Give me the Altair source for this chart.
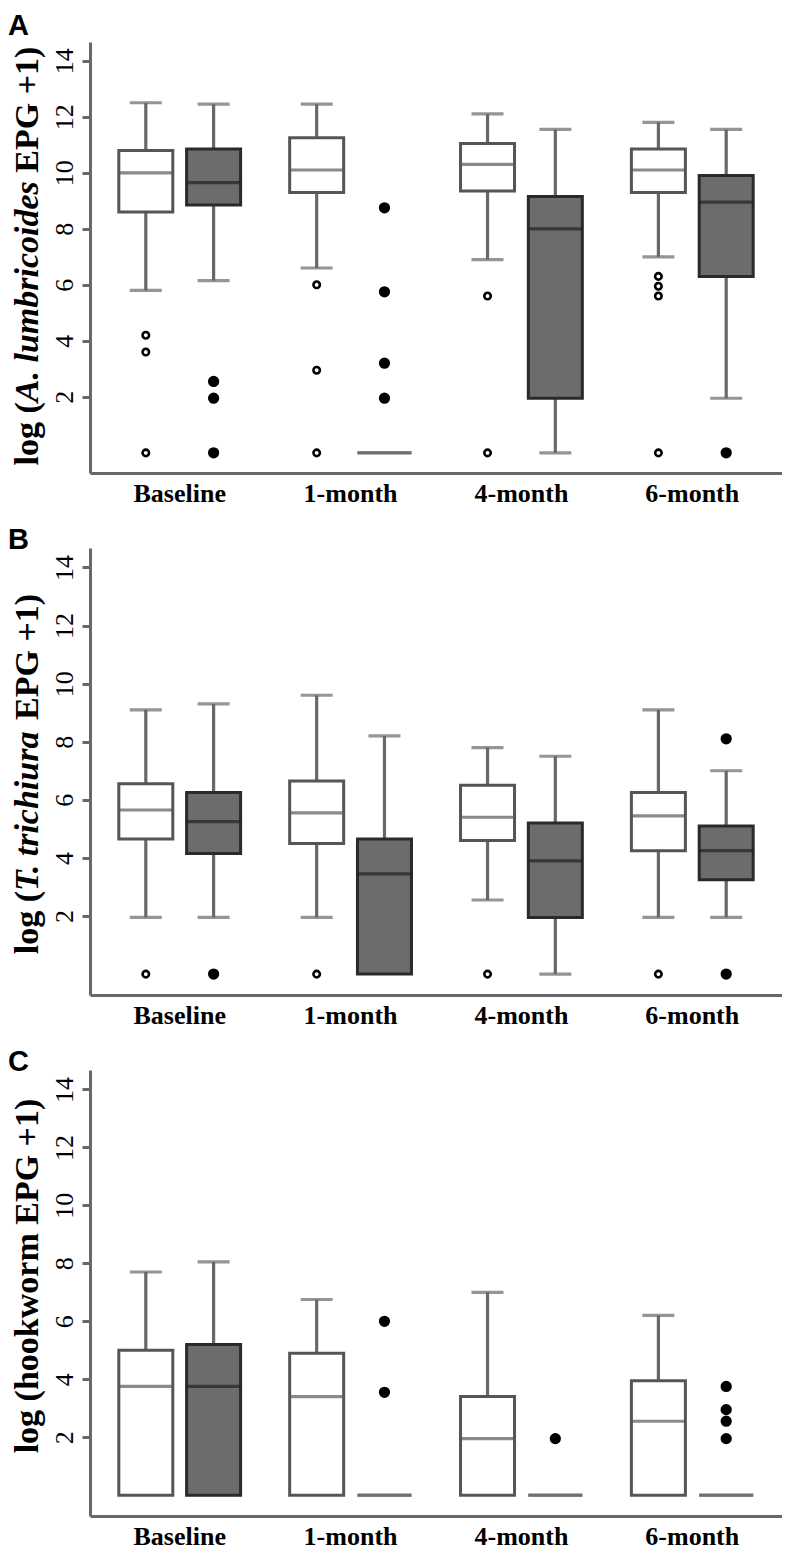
import altair as alt
import pandas as pd

TIMES = ["Baseline", "1-month", "4-month", "6-month"]
GROUPS = ["Open", "Shaded"]

# Panel A: A. lumbricoides (five-number summaries per time point)
A_OPEN = dict(lower=[5.8, 6.6, 6.9, 7.0], q1=[8.6, 9.3, 9.35, 9.3],
              med=[10.0, 10.1, 10.3, 10.1], q3=[10.8, 11.25, 11.05, 10.85],
              upper=[12.5, 12.45, 12.1, 11.8])
A_SHADED = dict(lower=[6.15, 0, 0, 1.95], q1=[8.85, 0, 1.95, 6.3],
                med=[9.65, 0, 8.0, 8.95], q3=[10.85, 0, 9.15, 9.9],
                upper=[12.45, 0, 11.55, 11.55])
A_OPEN_OUT = [[4.2, 3.6, 0], [6.0, 2.95, 0], [5.6, 0], [6.3, 5.95, 5.6, 0]]
A_SHADED_OUT = [[2.55, 1.95, 0], [8.75, 5.75, 3.2, 1.95], [], [0]]

# Panel B: T. trichiura
B_OPEN = dict(lower=[1.95, 1.95, 2.55, 1.95], q1=[4.65, 4.5, 4.6, 4.25],
              med=[5.65, 5.55, 5.4, 5.45], q3=[6.55, 6.65, 6.5, 6.25],
              upper=[9.1, 9.6, 7.8, 9.1])
B_SHADED = dict(lower=[1.95, 0, 0, 1.95], q1=[4.15, 0, 1.95, 3.25],
                med=[5.25, 3.45, 3.9, 4.25], q3=[6.25, 4.65, 5.2, 5.1],
                upper=[9.3, 8.2, 7.5, 7.0])
B_OPEN_OUT = [[0], [0], [0], [0]]
B_SHADED_OUT = [[0], [], [], [8.1, 0]]

# Panel C: hookworm
C_OPEN = dict(lower=[0, 0, 0, 0], q1=[0, 0, 0, 0],
              med=[3.75, 3.4, 1.95, 2.55], q3=[5.0, 4.9, 3.4, 3.95],
              upper=[7.7, 6.75, 7.0, 6.2])
C_SHADED = dict(lower=[0, 0, 0, 0], q1=[0, 0, 0, 0],
                med=[3.75, 0, 0, 0], q3=[5.2, 0, 0, 0],
                upper=[8.05, 0, 0, 0])
C_OPEN_OUT = [[], [], [], []]
C_SHADED_OUT = [[], [6.0, 3.55], [1.95], [3.75, 2.95, 2.55, 1.95]]

Y_TICKS = [2, 4, 6, 8, 10, 12, 14]
TITLE_A = ["log (", "A. lumbricoides", " EPG +1)"]
TITLE_B = ["log (", "T. trichiura", " EPG +1)"]
TITLE_C = ["log (hookworm EPG +1)"]
LETTERS = ["A", "B", "C"]

# ---------------------------------------------------------------------------
GRAY = "#686868"
SERIF = "Liberation Serif"

# approximate Times bold / bold-italic advance widths (per 1000 em)
BOLD_W = {" ": 250, "(": 333, ")": 333, "+": 570, ".": 250, "1": 500, "E": 667,
          "G": 778, "P": 611, "g": 500, "l": 278, "o": 500, "h": 556, "k": 556,
          "w": 722, "r": 444, "m": 833}
BI_W = {"A": 667, "T": 611, ".": 250, " ": 250, "l": 278, "u": 556, "m": 778,
        "b": 500, "r": 389, "i": 278, "c": 444, "o": 500, "d": 500, "e": 444,
        "s": 389, "t": 278, "h": 556, "a": 500}


def text_width(s, table, size):
    return sum(table.get(ch, 500) for ch in s) / 1000.0 * size


def build(panel, open_stats, shaded_stats, open_out, shaded_out):
    rows, outs = [], []
    for grp, st, ol in [("Open", open_stats, open_out), ("Shaded", shaded_stats, shaded_out)]:
        for i, t in enumerate(TIMES):
            rows.append(dict(panel=panel, time=t, group=grp, lower=st["lower"][i],
                             q1=st["q1"][i], med=st["med"][i], q3=st["q3"][i],
                             upper=st["upper"][i]))
            for v in ol[i]:
                outs.append(dict(panel=panel, time=t, group=grp, value=v))
    return pd.DataFrame(rows), pd.DataFrame(outs, columns=["panel", "time", "group", "value"])


def panel_chart(panel, stats, height, title_pieces, title_center, letter, letter_y):
    box, out = build(panel, *stats)
    xaxis = alt.Axis(labelFont=SERIF, labelFontWeight="bold", labelFontSize=26,
                     labelColor="black", ticks=False, labelPadding=7, domainColor=GRAY,
                     domainWidth=3, labelAngle=0, grid=False, title=None)
    yaxis = alt.Axis(values=Y_TICKS, labelFont=SERIF, labelFontSize=26, labelColor="black",
                     labelAngle=270, labelAlign="center", labelBaseline="alphabetic",
                     labelPadding=10, tickSize=8, tickWidth=3, tickColor=GRAY,
                     domainColor=GRAY, domainWidth=3, grid=False, title=None)
    x = alt.X("time:N", sort=TIMES, axis=xaxis, title=None,
              scale=alt.Scale(domain=TIMES, paddingInner=0, paddingOuter=0.025))
    xo = alt.XOffset("group:N", sort=GROUPS,
                     scale=alt.Scale(domain=GROUPS, paddingInner=0, paddingOuter=0.26))
    ysc = alt.Scale(domain=[-0.72, 14.67], nice=False, zero=False)

    def Y(f):
        return alt.Y(f + ":Q", scale=ysc, axis=yaxis, title=None)

    base = alt.Chart(box)
    whisk = base.transform_filter("datum.upper > datum.lower").mark_rule(
        strokeWidth=3.2, color=GRAY).encode(x=x, xOffset=xo, y=Y("lower"), y2="upper:Q")
    capl = base.transform_filter("datum.lower < datum.q1").mark_tick(
        size=32, thickness=3.2, color=GRAY).encode(x=x, xOffset=xo, y=Y("lower"))
    capu = base.transform_filter("datum.upper > datum.q3").mark_tick(
        size=32, thickness=3.2, color=GRAY).encode(x=x, xOffset=xo, y=Y("upper"))
    boxes = base.transform_calculate(
        fc="datum.group == 'Shaded' ? '#6c6c6c' : '#ffffff'",
        sc="datum.q1 == datum.q3 ? '#707070' : (datum.group == 'Shaded' ? '#2a2a2a' : '#555555')",
    ).mark_bar(size=54, strokeWidth=3).encode(
        x=x, xOffset=xo, y=Y("q1"), y2="q3:Q",
        fill=alt.Fill("fc:N", scale=None), stroke=alt.Stroke("sc:N", scale=None))
    meds = base.transform_calculate(
        mc="datum.q1 == datum.q3 ? '#707070' : (datum.group == 'Shaded' ? '#222222' : '#585858')"
    ).mark_tick(size=54, thickness=3.2).encode(
        x=x, xOffset=xo, y=Y("med"), color=alt.Color("mc:N", scale=None))
    is_sh = "datum.group == 'Shaded'"
    pts = alt.Chart(out).mark_point(shape="circle", filled=True, stroke="black",
                                    strokeWidth=2.6, opacity=1).encode(
        x=x, xOffset=xo, y=Y("value"),
        fill=alt.condition(is_sh, alt.value("black"), alt.value("white")),
        size=alt.condition(is_sh, alt.value(75), alt.value(42)))

    layers = [whisk, capl, capu, boxes, meds, pts]

    # y-axis title, built from pieces so that the species name can be italic
    fs = 34
    tx = -52
    if len(title_pieces) == 1:
        layers.append(alt.Chart(pd.DataFrame({"label": title_pieces})).mark_text(
            font=SERIF, fontWeight="bold", fontSize=fs, angle=270, align="center",
            baseline="alphabetic").encode(text="label:N", x=alt.value(tx),
                                          y=alt.value(title_center)))
    else:
        p1, p2, p3 = title_pieces
        w1 = text_width(p1, BOLD_W, fs)
        w2 = text_width(p2, BI_W, fs)
        w3 = text_width(p3, BOLD_W, fs)
        start = title_center + (w1 + w2 + w3) / 2.0
        pos = [start, start - w1, start - w1 - w2 - text_width(" ", BOLD_W, fs)]
        styles = ["normal", "italic", "normal"]
        for txt, yv, sty in zip([p1, p2, p3.strip()], pos, styles):
            layers.append(alt.Chart(pd.DataFrame({"label": [txt]})).mark_text(
                font=SERIF, fontWeight="bold", fontStyle=sty, fontSize=fs, angle=270,
                align="left", baseline="alphabetic").encode(
                text="label:N", x=alt.value(tx), y=alt.value(yv)))

    layers.append(alt.Chart(pd.DataFrame({"label": [letter]})).mark_text(
        font="Liberation Sans", fontWeight="bold", fontSize=29, align="left",
        baseline="top").encode(text="label:N", x=alt.value(-82), y=alt.value(letter_y)))

    return alt.layer(*layers).properties(width=692, height=height)


pA = panel_chart("A", (A_OPEN, A_SHADED, A_OPEN_OUT, A_SHADED_OUT), 431, TITLE_A, 214, LETTERS[0], -30)
pB = panel_chart("B", (B_OPEN, B_SHADED, B_OPEN_OUT, B_SHADED_OUT), 447, TITLE_B, 226, LETTERS[1], -22)
pC = panel_chart("C", (C_OPEN, C_SHADED, C_OPEN_OUT, C_SHADED_OUT), 446, TITLE_C, 206, LETTERS[2], -22)

chart = alt.vconcat(pA, pB, pC, spacing=75, bounds="flush").properties(
    padding={"left": 0, "top": 4, "right": 0, "bottom": 0}, background="white"
).configure_view(stroke=None)

chart.save("out.html", embed_options={"renderer": "svg", "actions": False})
